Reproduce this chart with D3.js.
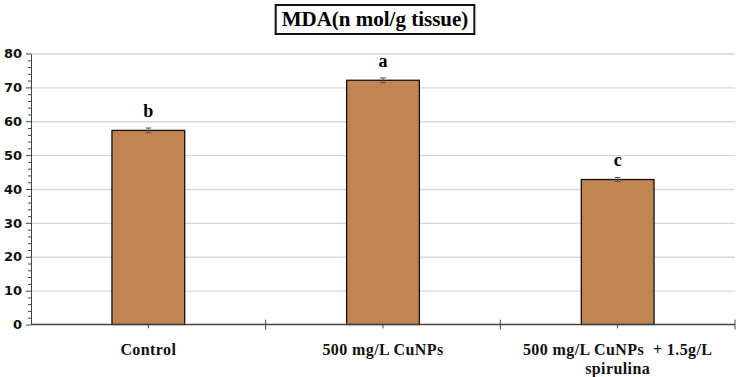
<!DOCTYPE html>
<html>
<head>
<meta charset="utf-8">
<script src="https://cdnjs.cloudflare.com/ajax/libs/d3/7.8.5/d3.min.js"></script>
<style>
  body { margin: 0; background: #fff; }
  .grid line { stroke: #d9d9d9; stroke-width: 1.3; }
  .grid path { display: none; }
</style>
</head>
<body>
<div id="chart"></div>
<script>
const width = 738;
const height = 377;

const groups = [["Control"], ["500 mg/L CuNPs"], ["500 mg/L CuNPs  + 1.5g/L", "spirulina"]];
const means = [57.3, 72.1, 42.8];
const errors = [0.7, 0.7, 0.6];
const letters = ["b", "a", "c"];
const yTicks = [0, 10, 20, 30, 40, 50, 60, 70, 80];

const margin = { left: 31, right: 3, top: 53.5, bottom: 52.5 };

const svg = d3.select("#chart")
    .append("svg")
    .attr("width", width)
    .attr("height", height);

const xScale = d3.scaleBand()
    .domain(d3.range(groups.length))
    .range([margin.left, width - margin.right])
    .paddingInner(0.69)
    .paddingOuter(0.345);

const xOuter = d3.scaleLinear()
    .domain([0, groups.length])
    .range([margin.left, width - margin.right]);

const yScale = d3.scaleLinear()
    .domain([0, 80])
    .range([height - margin.bottom, margin.top]);

// gridlines
svg.append("g")
    .attr("class", "grid")
    .attr("transform", `translate(${margin.left},0)`)
    .call(d3.axisLeft(yScale)
        .tickValues(yTicks.slice(1))
        .tickSize(-(width - margin.left - margin.right))
        .tickFormat(""));

// bars
svg.selectAll("rect.bar")
    .data(means)
    .enter()
    .append("rect")
    .attr("class", "bar")
    .attr("x", (d, i) => xScale(i))
    .attr("y", d => yScale(d))
    .attr("width", xScale.bandwidth())
    .attr("height", d => yScale(0) - yScale(d))
    .attr("fill", "#c08552")
    .attr("stroke", "#111")
    .attr("stroke-width", 1.3);

// error bars
const eb = svg.selectAll("g.err")
    .data(means)
    .enter()
    .append("g")
    .attr("class", "err")
    .attr("stroke", "#555")
    .attr("stroke-width", 1);

eb.append("line")
    .attr("x1", (d, i) => xScale(i) + xScale.bandwidth() / 2)
    .attr("x2", (d, i) => xScale(i) + xScale.bandwidth() / 2)
    .attr("y1", (d, i) => yScale(d + errors[i]))
    .attr("y2", (d, i) => yScale(d - errors[i]));

eb.append("line")
    .attr("x1", (d, i) => xScale(i) + xScale.bandwidth() / 2 - 3)
    .attr("x2", (d, i) => xScale(i) + xScale.bandwidth() / 2 + 3)
    .attr("y1", (d, i) => yScale(d + errors[i]))
    .attr("y2", (d, i) => yScale(d + errors[i]));

eb.append("line")
    .attr("x1", (d, i) => xScale(i) + xScale.bandwidth() / 2 - 3)
    .attr("x2", (d, i) => xScale(i) + xScale.bandwidth() / 2 + 3)
    .attr("y1", (d, i) => yScale(d - errors[i]))
    .attr("y2", (d, i) => yScale(d - errors[i]));

// significance letters
svg.selectAll("text.letter")
    .data(letters)
    .enter()
    .append("text")
    .attr("class", "letter")
    .attr("x", (d, i) => xScale(i) + xScale.bandwidth() / 2)
    .attr("y", (d, i) => yScale(means[i] + errors[i]) - 11)
    .attr("text-anchor", "middle")
    .style("font-family", "'Liberation Serif', 'Times New Roman', serif")
    .style("font-weight", "bold")
    .style("font-size", "18px")
    .text(d => d);

// Y axis with minor ticks
svg.append("g")
    .attr("transform", `translate(${margin.left},0)`)
    .call(d3.axisLeft(yScale)
        .tickValues(d3.range(0, 81, 2).filter(v => v % 10 !== 0))
        .tickSize(3)
        .tickFormat(""))
    .call(g => g.selectAll("line").attr("stroke", "#444"))
    .call(g => g.select(".domain").remove());

svg.append("g")
    .attr("transform", `translate(${margin.left},0)`)
    .call(d3.axisLeft(yScale)
        .tickValues(yTicks)
        .tickSize(5)
        .tickSizeOuter(0)
        .tickPadding(4))
    .call(g => g.selectAll("line").attr("stroke", "#444"))
    .call(g => g.select(".domain").attr("stroke", "#444"))
    .call(g => g.selectAll("text")
        .style("font-family", "'DejaVu Sans', Tahoma, sans-serif")
        .style("font-weight", "bold")
        .style("font-size", "13px")
        .attr("fill", "#111"));

// X axis
svg.append("line")
    .attr("x1", margin.left)
    .attr("x2", width - margin.right)
    .attr("y1", yScale(0))
    .attr("y2", yScale(0))
    .attr("stroke", "#444")
    .attr("stroke-width", 1.3);

// boundary ticks
svg.selectAll("line.btick")
    .data(d3.range(1, groups.length + 1))
    .enter()
    .append("line")
    .attr("x1", d => xOuter(d))
    .attr("x2", d => xOuter(d))
    .attr("y1", yScale(0) - 5)
    .attr("y2", yScale(0) + 5)
    .attr("stroke", "#444");

// center ticks
svg.selectAll("line.ctick")
    .data(groups)
    .enter()
    .append("line")
    .attr("x1", (d, i) => xScale(i) + xScale.bandwidth() / 2)
    .attr("x2", (d, i) => xScale(i) + xScale.bandwidth() / 2)
    .attr("y1", yScale(0))
    .attr("y2", yScale(0) + 4)
    .attr("stroke", "#444");

// category labels
const lbl = svg.selectAll("text.cat")
    .data(groups)
    .enter()
    .append("text")
    .attr("class", "cat")
    .attr("x", (d, i) => xScale(i) + xScale.bandwidth() / 2)
    .attr("y", yScale(0) + 30)
    .attr("text-anchor", "middle")
    .style("font-family", "'Liberation Serif', 'Times New Roman', serif")
    .style("font-weight", "bold")
    .style("font-size", "16px")
    .style("letter-spacing", "0.4px")
    .attr("fill", "#111");

lbl.selectAll("tspan")
    .data(d => d)
    .enter()
    .append("tspan")
    .attr("x", function () { return d3.select(this.parentNode).attr("x"); })
    .attr("dy", (d, i) => i === 0 ? 0 : 19)
    .style("white-space", "pre")
    .text(d => d);

// title
const title = svg.append("text")
    .attr("x", 375)
    .attr("y", 26)
    .attr("text-anchor", "middle")
    .style("font-family", "'Liberation Serif', 'Times New Roman', serif")
    .style("font-weight", "bold")
    .style("font-size", "21px")
    .text("MDA(n mol/g tissue)");

const bb = title.node().getBBox();
svg.append("rect")
    .attr("x", bb.x - 6)
    .attr("y", 5)
    .attr("width", bb.width + 12)
    .attr("height", 29)
    .attr("fill", "none")
    .attr("stroke", "#111")
    .attr("stroke-width", 2);
</script>
</body>
</html>
